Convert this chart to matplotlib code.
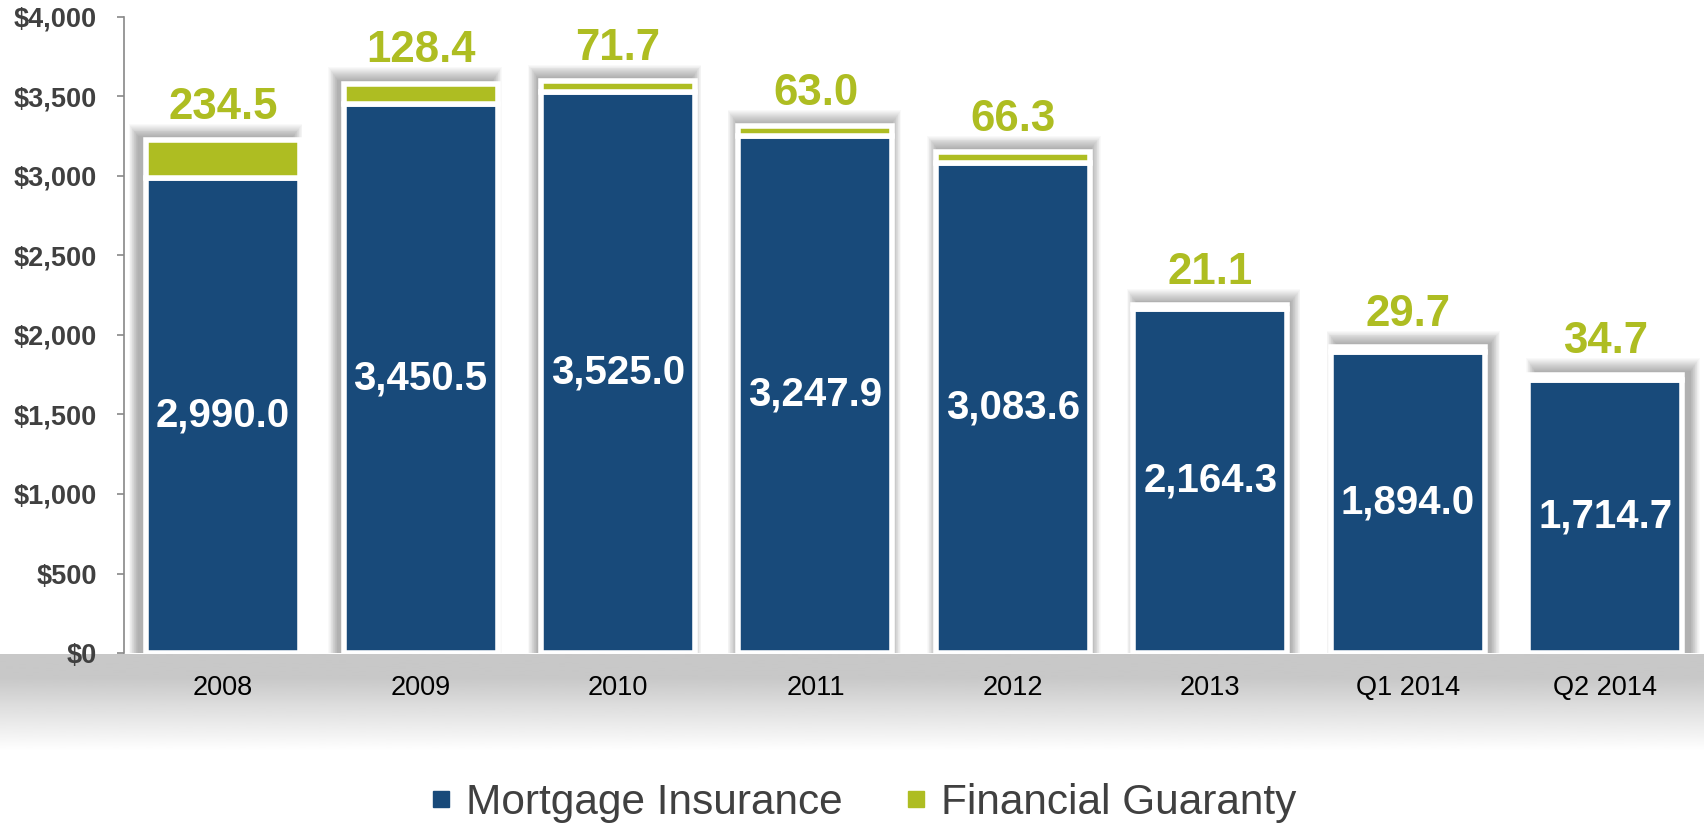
import numpy as np
import matplotlib
matplotlib.use("Agg")
import matplotlib.pyplot as plt
from matplotlib.lines import Line2D

plt.rcParams["font.family"] = ["Liberation Sans", "DejaVu Sans"]

categories = ["2008", "2009", "2010", "2011", "2012", "2013", "Q1 2014", "Q2 2014"]
mortgage = [2990.0, 3450.5, 3525.0, 3247.9, 3083.6, 2164.3, 1894.0, 1714.7]
guaranty = [234.5, 128.4, 71.7, 63.0, 66.3, 21.1, 29.7, 34.7]
yticks = [0, 500, 1000, 1500, 2000, 2500, 3000, 3500, 4000]

navy = "#184A7A"
green = "#AEBD22"
gray_txt = "#404040"

mortgage = np.array(mortgage)
guaranty = np.array(guaranty)
total = mortgage + guaranty
x = np.arange(len(categories))
width = 0.78

fig = plt.figure(figsize=(17.04, 8.24), dpi=100)

# gray floor band below the axis
band = fig.add_axes([0, 0.088, 1, 0.118], zorder=0)
grad = np.concatenate([np.full(25, 0.785), np.linspace(0.785, 1.0, 75)])
band.imshow(grad[:, None], cmap="gray", vmin=0, vmax=1, aspect="auto",
            extent=[0, 1, 0, 1])
band.axis("off")

ax = fig.add_axes([0.073, 0.2075, 0.927, 0.772], zorder=1)
ax.patch.set_alpha(0)

# soft drop shadows, leaning outward from the middle
for k in range(14):
    pad = 0.0035 * (k + 1)
    dx = (x - 3.5) * 0.011
    ax.bar(x + dx, total + 25 + 6 * k, width + 2 * pad, color="black",
           alpha=0.022, linewidth=0, zorder=1)

ax.bar(x, mortgage, width, color=navy, edgecolor="white", linewidth=4,
       zorder=3, label="Mortgage Insurance")
ax.bar(x, guaranty, width, bottom=mortgage, color=green, edgecolor="white",
       linewidth=4, zorder=3, label="Financial Guaranty")

for xi, m, g, t in zip(x, mortgage, guaranty, total):
    ax.text(xi, m / 2, f"{m:,.1f}", ha="center", va="center", color="white",
            fontsize=29, fontweight="bold", zorder=5)
    ax.annotate(f"{g:,.1f}", (xi, t), xytext=(0, 9), textcoords="offset points",
                ha="center", va="bottom", color=green, fontsize=31.5,
                fontweight="bold", zorder=5)

ax.set_xlim(-0.5, 7.5)
ax.set_ylim(0, 4000)
ax.set_yticks(yticks)
ax.set_yticklabels([f"${v:,}" for v in yticks], fontsize=19.5,
                   fontweight="bold", color=gray_txt)
ax.set_xticks(x)
ax.set_xticklabels(categories, fontsize=19.5, color="black")
ax.tick_params(axis="y", length=5, width=1.2, color="#888888", pad=15)
ax.tick_params(axis="x", length=0, pad=16)
for s in ["top", "right", "bottom"]:
    ax.spines[s].set_visible(False)
ax.spines["left"].set_color("#888888")
ax.spines["left"].set_linewidth(1.2)

handles = [
    Line2D([], [], marker="s", ls="", color=navy, markersize=12),
    Line2D([], [], marker="s", ls="", color=green, markersize=12),
]
fig.legend(handles, ["Mortgage Insurance", "Financial Guaranty"],
           loc="center", bbox_to_anchor=(0.506, 0.026), ncol=2, frameon=False,
           fontsize=30.5, labelcolor=gray_txt, handletextpad=0.3,
           columnspacing=1.42, handlelength=0.6)

fig.savefig("out.png", dpi=100)
